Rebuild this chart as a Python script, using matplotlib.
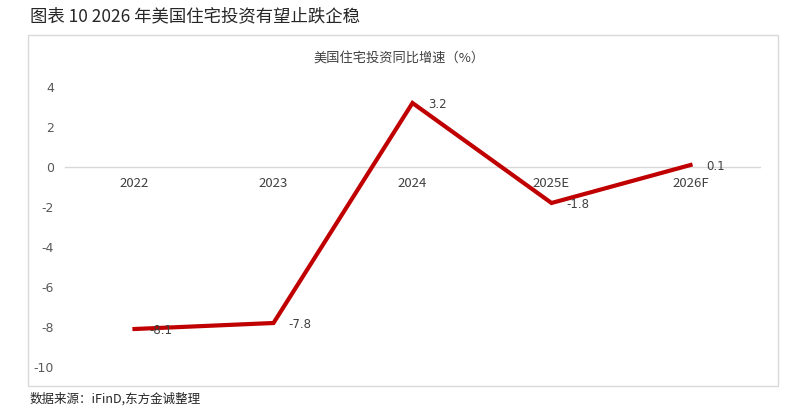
import numpy as np
import matplotlib.pyplot as plt
from matplotlib.patches import Rectangle

plt.rcParams['font.family'] = ['Noto Sans CJK SC', 'DejaVu Sans']
plt.rcParams['axes.unicode_minus'] = False

years = ["2022", "2023", "2024", "2025E", "2026F"]
growth = [-8.1, -7.8, 3.2, -1.8, 0.1]
labels = ["-8.1", "-7.8", "3.2", "-1.8", "0.1"]

fig = plt.figure(figsize=(7.96, 4.07), dpi=100)
ax = fig.add_axes([65/796, 1-367/407, 695/796, 280/407])

x = np.arange(len(years))
ax.plot(x, growth, color='#C00000', lw=3, solid_joinstyle='miter', zorder=3)
for xi, v, s in zip(x, growth, labels):
    ax.annotate(s, (xi, v), xytext=(11, -1), textcoords='offset points',
                ha='left', va='center', fontsize=8.5, color='#404040',
                family=['DejaVu Sans'])

ax.set_xlim(-0.5, 4.5)
ax.set_ylim(-10, 4)
ax.set_yticks(range(-10, 5, 2))
ax.set_xticks(x)
ax.set_xticklabels(years)

for s in ['top', 'right', 'left']:
    ax.spines[s].set_visible(False)
ax.spines['bottom'].set_position(('data', 0))
ax.spines['bottom'].set_color('#d9d9d9')
ax.spines['bottom'].set_linewidth(1)
ax.tick_params(axis='x', length=0, pad=7, labelsize=9.5, labelcolor='#404040')
ax.tick_params(axis='y', length=0, pad=8, labelsize=9, labelcolor='#595959')
for t in ax.get_yticklabels():
    t.set_family(['DejaVu Sans'])

ax.set_title('美国住宅投资同比增速（%）', fontsize=9.5, color='#404040',
             pad=18, x=0.481)

fig.patches.append(Rectangle((28/796, 1-386/407), 750/796, 351/407,
                             transform=fig.transFigure, fill=False,
                             edgecolor='#d9d9d9', lw=1))
fig.text(30/796, 1-16/407, '图表 10 2026 年美国住宅投资有望止跌企稳', fontsize=12.5,
         color='#262626', va='center')
fig.text(30/796, 1-399/407, '数据来源：iFinD,东方金诚整理', fontsize=9,
         color='#262626', va='center')

plt.savefig('out.png')
